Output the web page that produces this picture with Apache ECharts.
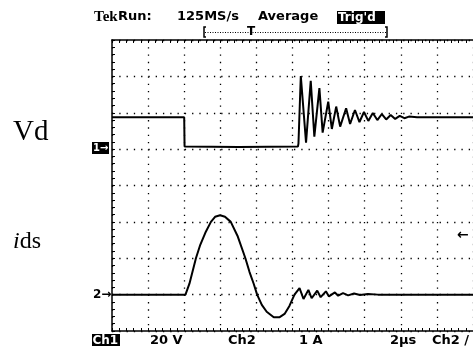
<!DOCTYPE html>
<html>
<head>
<meta charset="utf-8">
<script src="https://cdn.jsdelivr.net/npm/echarts@6/dist/echarts.min.js"></script>
<style>
html,body{margin:0;padding:0;background:#fff;}
#c{width:473px;height:349px;}
</style>
</head>
<body>
<div id="c"></div>
<script>
// time in microseconds (2 µs/div), Vd in volts (20 V/div), ids in amperes (1 A/div)
var timeVd = [0, 4.0, 4.02, 7.0, 10.30, 10.33, 10.46, 10.75, 11.01, 11.21, 11.49, 11.67, 11.98, 12.18, 12.42, 12.64, 12.97, 13.19, 13.46, 13.71, 13.96, 14.20, 14.45, 14.70, 14.95, 15.19, 15.44, 15.69, 15.94, 16.20, 16.45, 16.9, 20];
var vdValues = [17.5, 17.5, 1.4, 1.2, 1.4, 3.0, 40.2, 3.6, 37.6, 6.9, 33.5, 9.1, 26.1, 11.1, 23.4, 12.4, 22.5, 13.8, 21.5, 14.9, 20.4, 15.5, 19.9, 16.0, 19.3, 16.3, 18.8, 16.6, 18.3, 17.0, 17.9, 17.5, 17.5];

var timeIds = [0, 4.07, 4.29, 4.65, 4.89, 5.17, 5.48, 5.71, 5.99, 6.26, 6.58, 6.95, 7.39, 7.62, 7.85, 8.04, 8.30, 8.57, 8.96, 9.29, 9.56, 9.83, 10.11, 10.39, 10.61, 10.88, 11.06, 11.37, 11.56, 11.85, 12.02, 12.35, 12.53, 12.80, 13.08, 13.41, 13.74, 14.18, 14.73, 20];
var idsValues = [0, 0, 0.30, 1.0, 1.37, 1.70, 2.0, 2.14, 2.18, 2.14, 2.0, 1.62, 1.0, 0.62, 0.30, 0, -0.28, -0.47, -0.62, -0.62, -0.53, -0.31, 0, 0.18, -0.12, 0.13, -0.10, 0.11, -0.07, 0.09, -0.05, 0.06, -0.03, 0.04, -0.02, 0.03, -0.01, 0.02, 0, 0];

var chart = echarts.init(document.getElementById('c'), null, {renderer: 'canvas'});

function pairs(t, v) { return t.map(function (x, i) { return [x, v[i]]; }); }

var dotted = {color: '#000', width: 1.3, type: [1.3, 5.98]};
var scopeFont = 'DejaVu Sans';

function txt(x, y, s, size, color) {
  return {type: 'text', z: 10, style: {x: x, y: y, text: s, font: 'bold ' + size + 'px "' + scopeFont + '"', fill: color || '#000', textVerticalAlign: 'middle'}};
}

chart.setOption({
  animation: false,
  backgroundColor: '#fff',
  grid: {left: 112, top: 40, width: 364, height: 291},
  xAxis: [{
    type: 'value', min: 0, max: 20, interval: 2, position: 'bottom',
    axisLine: {show: true, onZero: false, lineStyle: {color: '#000', width: 1.5}},
    axisTick: {show: true, inside: true, length: 3, lineStyle: {color: '#000'}},
    minorTick: {show: true, splitNumber: 5, length: 3, lineStyle: {color: '#000'}},
    axisLabel: {show: false},
    splitLine: {show: true, lineStyle: dotted}
  }, {
    type: 'value', min: 0, max: 20, interval: 2, position: 'top',
    axisLine: {show: true, onZero: false, lineStyle: {color: '#000', width: 1.5}},
    axisTick: {show: true, inside: true, length: 3, lineStyle: {color: '#000'}},
    minorTick: {show: true, splitNumber: 5, length: 3, lineStyle: {color: '#000'}},
    axisLabel: {show: false},
    splitLine: {show: false}
  }],
  yAxis: [{
    type: 'value', min: -100, max: 60, interval: 20, position: 'left',
    axisLine: {show: true, onZero: false, lineStyle: {color: '#000', width: 1.5}},
    axisTick: {show: true, inside: true, length: 3, lineStyle: {color: '#000'}},
    minorTick: {show: true, splitNumber: 5, length: 3, lineStyle: {color: '#000'}},
    axisLabel: {show: false},
    splitLine: {show: true, lineStyle: dotted}
  }, {
    type: 'value', min: -1, max: 7, interval: 1, show: false,
    splitLine: {show: false}
  }],
  series: [{
    name: 'Vd', type: 'line', xAxisIndex: 0, yAxisIndex: 0,
    data: pairs(timeVd, vdValues), showSymbol: false, symbol: 'none',
    lineStyle: {color: '#000', width: 2}, z: 5
  }, {
    name: 'ids', type: 'line', xAxisIndex: 0, yAxisIndex: 1,
    data: pairs(timeIds, idsValues), showSymbol: false, symbol: 'none',
    lineStyle: {color: '#000', width: 2}, z: 5
  }],
  graphic: [
    {type: 'text', style: {x: 94, y: 17, text: 'Tek', font: 'bold 15px "Liberation Serif"', fill: '#000', textVerticalAlign: 'middle'}},
    txt(118, 17, 'Run:', 13),
    txt(177, 17, '125MS/s', 13),
    txt(258, 17, 'Average', 13),
    {type: 'rect', shape: {x: 337, y: 11, width: 48, height: 13}, style: {fill: '#000'}},
    txt(338, 17.5, "Trig'd", 12, '#fff'),
    {type: 'line', shape: {x1: 205, y1: 32.5, x2: 386, y2: 32.5}, style: {stroke: '#000', lineWidth: 1, lineDash: [1, 1.5]}},
    {type: 'polyline', shape: {points: [[206, 27], [204, 27], [204, 37], [206, 37]]}, style: {stroke: '#000', lineWidth: 1.5, fill: null}},
    {type: 'polyline', shape: {points: [[385, 27], [387, 27], [387, 37], [385, 37]]}, style: {stroke: '#000', lineWidth: 1.5, fill: null}},
    txt(247, 32, 'T', 12),
    {type: 'rect', shape: {x: 92, y: 142, width: 17, height: 12}, style: {fill: '#000'}},
    txt(93, 148.5, '1\u2192', 10, '#fff'),
    txt(93, 295, '2\u2192', 12),
    {type: 'text', style: {x: 13, y: 132, text: 'Vd', font: '29px "Liberation Serif"', fill: '#000', textVerticalAlign: 'middle'}},
    {type: 'text', style: {x: 13, y: 242, text: '{i|i}ds', font: '24px "Liberation Serif"', fill: '#000', textVerticalAlign: 'middle',
      rich: {i: {font: 'italic 24px "Liberation Serif"', fill: '#000'}}}},
    txt(457, 235, '\u2190', 14),
    {type: 'rect', shape: {x: 92, y: 334, width: 28, height: 12}, style: {fill: '#000'}},
    txt(92.5, 340.5, 'Ch1', 12, '#fff'),
    txt(150, 340.5, '20 V', 13),
    txt(228, 340.5, 'Ch2', 13),
    txt(299, 340.5, '1 A', 13),
    txt(390, 340.5, '2\u00b5s', 13),
    txt(432, 340.5, 'Ch2 /', 13)
  ]
});
</script>
</body>
</html>
